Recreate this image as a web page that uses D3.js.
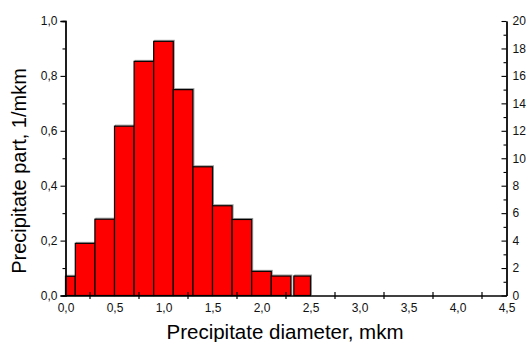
<!DOCTYPE html>
<html>
<head>
<meta charset="utf-8">
<script src="https://cdn.jsdelivr.net/npm/d3@7"></script>
<style>
  html, body { margin: 0; padding: 0; background: #fff; }
  svg { display: block; }
</style>
</head>
<body>
<svg id="chart" width="526" height="342"></svg>
<script>
// ---- data ----
const binStart = [0.0, 0.1, 0.3, 0.5, 0.7, 0.9, 1.1, 1.3, 1.5, 1.7, 1.9, 2.1, 2.33];
const binEnd   = [0.1, 0.3, 0.5, 0.7, 0.9, 1.1, 1.3, 1.5, 1.7, 1.9, 2.1, 2.3, 2.5];
const partValues = [0.07, 0.19, 0.278, 0.617, 0.853, 0.926, 0.75, 0.469, 0.327, 0.277, 0.088, 0.071, 0.071];
const xTickValues = [0, 0.5, 1.0, 1.5, 2.0, 2.5, 3.0, 3.5, 4.0, 4.5];
const xCrossTicks = [0.25, 0.75, 1.25, 1.75, 2.25, 2.75, 3.25, 3.75, 4.25];
const yLeftTicks = [0, 0.2, 0.4, 0.6, 0.8, 1.0];
const yRightTicks = [0, 2, 4, 6, 8, 10, 12, 14, 16, 18, 20];
const xTitle = "Precipitate diameter, mkm";
const yTitle = "Precipitate part,  1/mkm";

(function () {
// ---- layout ----
const mLeft = 65.5, mRight = 506.5, mTop = 21, mBottom = 295.5;
const svg = d3.select("#chart");
const font = "Arial, 'Liberation Sans', sans-serif";
const comma = d => d3.format(".1f")(d).replace(".", ",");

const x = d3.scaleLinear().domain([0, 4.5]).range([mLeft, mRight]);
const y = d3.scaleLinear().domain([0, 1.0]).range([mBottom, mTop]);
const y2 = d3.scaleLinear().domain([0, 20]).range([mBottom, mTop]);

const bars = binStart.map((s, i) => ({ s, e: binEnd[i], v: partValues[i] }));

// shadow
svg.append("g").selectAll("rect").data(bars).join("rect")
  .attr("x", d => x(d.s) + 1)
  .attr("y", d => y(d.v) - 1)
  .attr("width", d => x(d.e) - x(d.s))
  .attr("height", d => y(0) - y(d.v))
  .attr("fill", "none")
  .attr("stroke", "#9a9a9a")
  .attr("stroke-width", 1);

// bars
svg.append("g").selectAll("rect").data(bars).join("rect")
  .attr("x", d => x(d.s))
  .attr("y", d => y(d.v))
  .attr("width", d => x(d.e) - x(d.s))
  .attr("height", d => y(0) - y(d.v))
  .attr("fill", "#ff0000")
  .attr("stroke", "#000")
  .attr("stroke-width", 1.2);

// left axis
const gl = svg.append("g").attr("transform", `translate(${mLeft},0)`);
gl.call(d3.axisLeft(y).tickValues(yLeftTicks).tickFormat(comma).tickSize(5).tickPadding(3));
gl.append("g").call(d3.axisLeft(y).tickValues(d3.range(0.1, 1.0, 0.2)).tickFormat("").tickSize(3));

// right axis
const gr = svg.append("g").attr("transform", `translate(${mRight},0)`);
gr.call(d3.axisRight(y2).tickValues(yRightTicks).tickFormat(d3.format("d")).tickSizeInner(-5).tickSizeOuter(0).tickPadding(6));
gr.append("g").call(d3.axisRight(y2).tickValues(d3.range(1, 20, 2)).tickFormat("").tickSizeInner(-3).tickSizeOuter(0));

// bottom axis
const gb = svg.append("g").attr("transform", `translate(0,${mBottom})`);
gb.call(d3.axisBottom(x).tickValues(xTickValues).tickFormat(comma).tickSize(0).tickPadding(8));
gb.selectAll(".cross").data(xCrossTicks).join("line")
  .attr("class", "cross")
  .attr("x1", d => x(d)).attr("x2", d => x(d))
  .attr("y1", -3.5).attr("y2", 3.5)
  .attr("stroke", "#000").attr("stroke-width", 1.2);

svg.selectAll(".domain").attr("stroke", "#000").attr("stroke-width", 1.3);
svg.selectAll(".tick line").attr("stroke", "#000").attr("stroke-width", 1.1);
svg.selectAll(".tick text").attr("font-family", font).attr("font-size", 12).attr("fill", "#111");

// titles
svg.append("text")
  .attr("x", (mLeft + mRight) / 2 - 1).attr("y", 339)
  .attr("text-anchor", "middle")
  .attr("font-family", font).attr("font-size", 20.5)
  .attr("fill", "#000")
  .text(xTitle);

svg.append("text")
  .attr("transform", `translate(26,171) rotate(-90)`)
  .attr("text-anchor", "middle")
  .attr("font-family", font).attr("font-size", 20)
  .attr("fill", "#000")
  .text(yTitle);
})();
</script>
</body>
</html>
